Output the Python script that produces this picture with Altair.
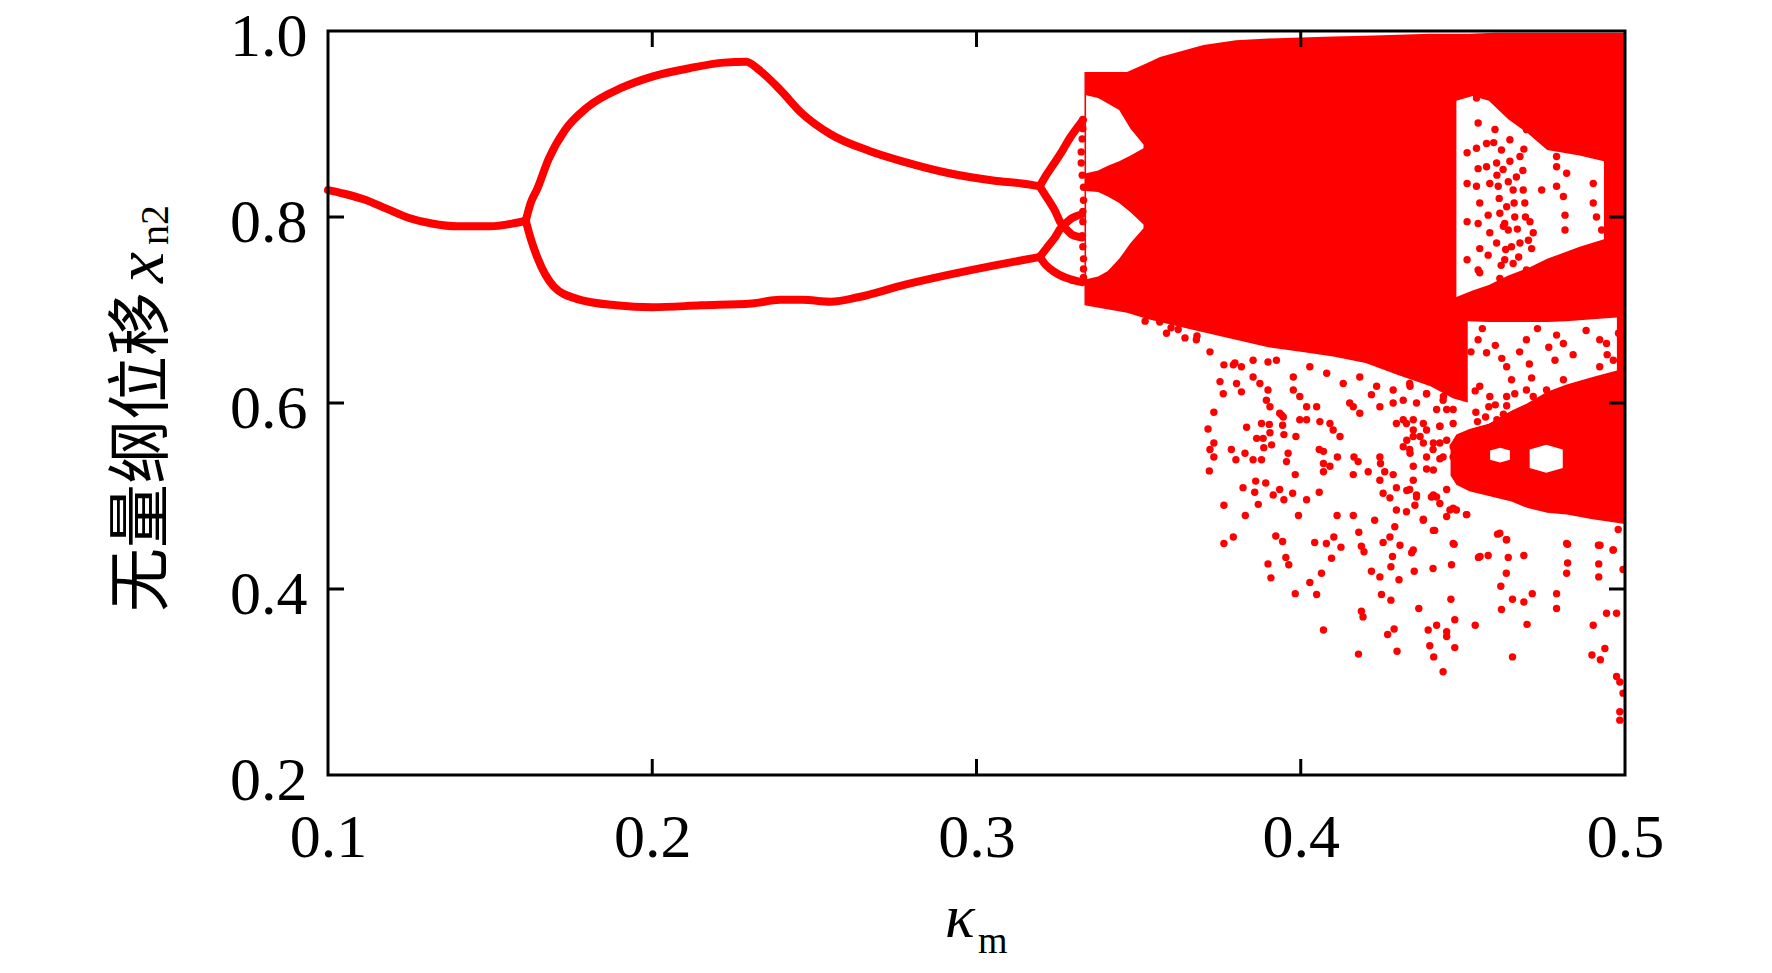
import altair as alt
import pandas as pd

RED = "#ff0000"
W, H = 1297, 744

# ---------- periodic branches (x = kappa_m, y = x_n2) ----------
p1 = [(0.100, 0.829), (0.105, 0.825), (0.111, 0.819), (0.118, 0.809), (0.125, 0.799),
      (0.132, 0.793), (0.140, 0.790), (0.150, 0.790), (0.157, 0.793), (0.161, 0.796)]
p2_up = [(0.161, 0.796), (0.1625, 0.815), (0.1645, 0.830), (0.168, 0.862), (0.173, 0.893),
         (0.180, 0.918), (0.1906, 0.939), (0.200, 0.951), (0.2115, 0.960), (0.222, 0.966),
         (0.229, 0.967), (0.233, 0.958), (0.2394, 0.937), (0.246, 0.912), (0.255, 0.889),
         (0.267, 0.871), (0.278, 0.859), (0.2916, 0.847), (0.3056, 0.839), (0.314, 0.836),
         (0.3195, 0.833)]
p2_lo = [(0.161, 0.796), (0.1625, 0.777), (0.1645, 0.757), (0.1697, 0.725), (0.1767, 0.712),
         (0.1889, 0.705), (0.200, 0.703), (0.215, 0.705), (0.2307, 0.707), (0.2394, 0.711),
         (0.2463, 0.711), (0.255, 0.709), (0.2638, 0.714), (0.2777, 0.727), (0.2916, 0.738),
         (0.3056, 0.748), (0.3195, 0.757)]
p4_a = [(0.3195, 0.833), (0.3215, 0.845), (0.324, 0.858), (0.3266, 0.872), (0.329, 0.886),
        (0.3315, 0.898), (0.3328, 0.904)]
p4_b = [(0.3195, 0.833), (0.3215, 0.822), (0.324, 0.808), (0.3266, 0.792), (0.3295, 0.799),
        (0.3325, 0.803)]
p4_c = [(0.3195, 0.757), (0.3215, 0.766), (0.324, 0.777), (0.3266, 0.789), (0.3295, 0.781),
        (0.3325, 0.778)]
p4_d = [(0.3195, 0.757), (0.3215, 0.748), (0.324, 0.741), (0.3266, 0.736), (0.329, 0.733),
        (0.3325, 0.730)]

# ---------- chaotic region: dense bands (x, lower, upper) ----------
mass_x = [0.3333, 0.3464, 0.353, 0.3566, 0.365, 0.370, 0.380, 0.390, 0.400, 0.410, 0.420,
          0.430, 0.440, 0.4469, 0.452, 0.460, 0.470, 0.480, 0.490, 0.500]
mass_lo = [0.705, 0.697, 0.690, 0.687, 0.680, 0.676, 0.668, 0.660, 0.655, 0.650, 0.643,
           0.630, 0.618, 0.605, 0.600, 0.600, 0.600, 0.600, 0.600, 0.600]
mass_hi = [0.956, 0.956, 0.966, 0.972, 0.980, 0.985, 0.990, 0.992, 0.993, 0.994, 0.995,
           0.996, 0.997, 0.997, 0.997, 0.998, 0.998, 0.998, 0.998, 0.998]
lowband_x = [0.4462, 0.448, 0.452, 0.458, 0.465, 0.470, 0.476, 0.482, 0.490, 0.500]
lowband_lo = [0.522, 0.512, 0.505, 0.500, 0.494, 0.487, 0.482, 0.480, 0.475, 0.470]
lowband_hi = [0.556, 0.566, 0.572, 0.578, 0.592, 0.600, 0.612, 0.620, 0.628, 0.635]

# ---------- empty windows inside the chaotic band (x, lower, upper) ----------
gap1_x = [0.3338, 0.3375, 0.3405, 0.344, 0.3475, 0.3515]
gap1_lo = [0.847, 0.850, 0.855, 0.860, 0.866, 0.874]
gap1_hi = [0.931, 0.928, 0.922, 0.915, 0.895, 0.878]
gap2_x = [0.3338, 0.3375, 0.3405, 0.344, 0.3475, 0.3515]
gap2_lo = [0.733, 0.736, 0.742, 0.755, 0.772, 0.788]
gap2_hi = [0.828, 0.827, 0.822, 0.815, 0.805, 0.792]
gap3_x = [0.448, 0.453, 0.458, 0.464, 0.470, 0.476, 0.486, 0.4935]
gap3_lo = [0.714, 0.721, 0.727, 0.737, 0.745, 0.755, 0.768, 0.776]
gap3_hi = [0.925, 0.930, 0.925, 0.905, 0.890, 0.872, 0.866, 0.860]
gap4_x = [0.4515, 0.458, 0.465, 0.470, 0.476, 0.482, 0.490, 0.4975]
gap4_lo = [0.572, 0.578, 0.592, 0.600, 0.612, 0.620, 0.628, 0.635]
gap4_hi = [0.688, 0.687, 0.687, 0.687, 0.687, 0.688, 0.690, 0.692]
gap5_x = [0.4706, 0.4757, 0.4808]
gap5_lo = [0.530, 0.525, 0.530]
gap5_hi = [0.550, 0.555, 0.550]
gap6_x = [0.4584, 0.4615, 0.4645]
gap6_lo = [0.539, 0.536, 0.539]
gap6_hi = [0.549, 0.552, 0.549]

# ---------- scattered iterates ----------
onset_pts = [(0.3328, 0.905), (0.3328, 0.895), (0.3326, 0.884), (0.3323, 0.870), (0.3323, 0.858),
             (0.3326, 0.845), (0.3330, 0.832), (0.3330, 0.818), (0.3328, 0.806), (0.3328, 0.795),
             (0.3326, 0.780), (0.3328, 0.768), (0.3330, 0.755), (0.3330, 0.744), (0.3330, 0.735)]
edge_pts = [(0.3565, 0.687), (0.3586, 0.675), (0.3622, 0.679), (0.3643, 0.670), (0.3678, 0.668),
            (0.3720, 0.655), (0.3751, 0.623), (0.3797, 0.643), (0.3817, 0.639), (0.3853, 0.646),
            (0.3899, 0.644), (0.3925, 0.646), (0.3977, 0.628), (0.4028, 0.639), (0.4080, 0.632),
            (0.4131, 0.621), (0.4182, 0.628), (0.4234, 0.618), (0.4285, 0.614), (0.4336, 0.621),
            (0.4388, 0.610), (0.4439, 0.603), (0.4480, 0.614), (0.352, 0.688), (0.360, 0.681),
            (0.368, 0.672), (0.3763, 0.641), (0.3792, 0.641), (0.3802, 0.621), (0.3817, 0.612),
            (0.3761, 0.610), (0.3853, 0.628), (0.3874, 0.621), (0.3899, 0.614), (0.3894, 0.603),
            (0.3905, 0.596), (0.3935, 0.589), (0.3946, 0.585), (0.3997, 0.582), (0.4018, 0.582),
            (0.3977, 0.614), (0.3997, 0.607), (0.4018, 0.596), (0.4049, 0.596), (0.4059, 0.580),
            (0.4090, 0.578), (0.4100, 0.571), (0.4121, 0.564), (0.4162, 0.596), (0.4182, 0.589),
            (0.4151, 0.600), (0.4218, 0.609), (0.4244, 0.596), (0.4285, 0.600), (0.4295, 0.578),
            (0.4326, 0.578), (0.4347, 0.582), (0.4378, 0.578), (0.4388, 0.571), (0.4429, 0.575),
            (0.4450, 0.593), (0.4470, 0.578),
            (0.4316, 0.582), (0.4347, 0.571), (0.4429, 0.575), (0.4327, 0.560), (0.4368, 0.564),
            (0.4409, 0.557), (0.4450, 0.560), (0.4337, 0.546), (0.4388, 0.542), (0.4429, 0.540),
            (0.4347, 0.532), (0.4409, 0.528), (0.4327, 0.643), (0.4368, 0.632), (0.4409, 0.639),
            (0.4450, 0.628), (0.4337, 0.618), (0.4388, 0.610), (0.4440, 0.607), (0.4470, 0.593),
            (0.4357, 0.600), (0.4419, 0.593), (0.4316, 0.603), (0.4460, 0.657), (0.4409, 0.657),
            (0.4347, 0.664)]
cloud_pts = [(0.3732, 0.590), (0.3714, 0.572), (0.3732, 0.557), (0.3720, 0.550), (0.3732, 0.542),
             (0.3718, 0.527), (0.3786, 0.550), (0.3800, 0.539), (0.3828, 0.546), (0.3853, 0.539),
             (0.3879, 0.539), (0.3833, 0.574), (0.3864, 0.562), (0.3884, 0.562), (0.3905, 0.568),
             (0.3910, 0.555), (0.3886, 0.552), (0.3879, 0.578), (0.3903, 0.577), (0.3941, 0.587),
             (0.3944, 0.576), (0.3948, 0.566), (0.3961, 0.546), (0.3956, 0.537), (0.3985, 0.564),
             (0.3983, 0.523), (0.3822, 0.509), (0.3861, 0.516), (0.3892, 0.514), (0.3858, 0.504),
             (0.3869, 0.491), (0.3915, 0.501), (0.3935, 0.507), (0.3948, 0.496), (0.3975, 0.503),
             (0.4018, 0.496), (0.4057, 0.504), (0.3993, 0.479), (0.4057, 0.550), (0.4070, 0.548),
             (0.4113, 0.542), (0.4070, 0.535), (0.4090, 0.532), (0.4070, 0.526), (0.4164, 0.542),
             (0.4177, 0.537), (0.4162, 0.523), (0.4208, 0.526), (0.4244, 0.542), (0.4246, 0.535),
             (0.4259, 0.526), (0.4285, 0.523), (0.4244, 0.517), (0.4254, 0.503), (0.4275, 0.498),
             (0.4295, 0.509), (0.4336, 0.507), (0.4357, 0.501), (0.4347, 0.517), (0.4403, 0.499),
             (0.4419, 0.499), (0.4429, 0.492), (0.4450, 0.507), (0.4480, 0.521), (0.4470, 0.542),
             (0.4439, 0.542), (0.4408, 0.550), (0.4388, 0.529), (0.4347, 0.564), (0.4336, 0.550),
             (0.4316, 0.553), (0.4378, 0.557), (0.4429, 0.557), (0.4470, 0.553),
             (0.3763, 0.490), (0.3829, 0.479), (0.3763, 0.449), (0.3792, 0.456), (0.3923, 0.457),
             (0.3944, 0.451), (0.3899, 0.427), (0.3908, 0.412), (0.3954, 0.434), (0.3963, 0.426),
             (0.3983, 0.395), (0.4028, 0.407), (0.4049, 0.394), (0.4064, 0.417), (0.4043, 0.450),
             (0.4079, 0.449), (0.4102, 0.456), (0.4124, 0.445), (0.4095, 0.433), (0.4112, 0.479),
             (0.4162, 0.479), (0.4179, 0.461), (0.4187, 0.446), (0.4195, 0.440), (0.4228, 0.474),
             (0.4254, 0.450), (0.4275, 0.456), (0.4290, 0.467), (0.4295, 0.485), (0.4326, 0.483),
             (0.4352, 0.490), (0.4378, 0.475), (0.4413, 0.463), (0.4470, 0.487), (0.4450, 0.478),
             (0.4473, 0.448), (0.4342, 0.439), (0.4306, 0.447), (0.4283, 0.435), (0.4278, 0.424),
             (0.4303, 0.410), (0.4244, 0.413), (0.4218, 0.419), (0.4249, 0.394), (0.4278, 0.388),
             (0.4350, 0.419), (0.4408, 0.422), (0.4465, 0.426), (0.4364, 0.379), (0.4463, 0.389),
             (0.4475, 0.367), (0.4187, 0.376), (0.4192, 0.370), (0.4070, 0.356), (0.4288, 0.357),
             (0.4268, 0.351), (0.4393, 0.356), (0.4419, 0.361), (0.4450, 0.354), (0.4450, 0.349),
             (0.4398, 0.339), (0.4410, 0.327), (0.4475, 0.337), (0.4297, 0.333), (0.4178, 0.330),
             (0.4439, 0.311),
             (0.4327, 0.506), (0.4357, 0.499), (0.4409, 0.501), (0.4460, 0.485), (0.4378, 0.474),
             (0.4409, 0.463), (0.4512, 0.480), (0.4614, 0.460), (0.4635, 0.453), (0.4470, 0.449),
             (0.4347, 0.442), (0.4820, 0.449), (0.4923, 0.447), (0.4964, 0.442), (0.4553, 0.435)]
right_pts = [(0.4548, 0.434), (0.4578, 0.436), (0.4607, 0.459), (0.4634, 0.453), (0.4640, 0.434),
             (0.4634, 0.417), (0.4688, 0.436), (0.4617, 0.403), (0.4653, 0.389), (0.4688, 0.386),
             (0.4714, 0.395), (0.4619, 0.378), (0.4698, 0.362), (0.4538, 0.361), (0.4653, 0.327),
             (0.4789, 0.395), (0.4789, 0.379), (0.4823, 0.448), (0.4823, 0.428), (0.4820, 0.417),
             (0.4918, 0.447), (0.4919, 0.427), (0.4919, 0.413), (0.4963, 0.442), (0.4994, 0.421),
             (0.4943, 0.374), (0.4974, 0.374), (0.4902, 0.361), (0.4898, 0.329), (0.4924, 0.324),
             (0.4938, 0.336), (0.4974, 0.306), (0.4984, 0.300), (0.4994, 0.288), (0.4984, 0.268),
             (0.4984, 0.259), (0.4979, 0.464), (0.4511, 0.480), (0.4480, 0.485), (0.4532, 0.512),
             (0.4538, 0.613)]
window_pts = [(0.4513, 0.869), (0.4513, 0.836), (0.4513, 0.795), (0.4513, 0.754), (0.4516, 0.937),
              (0.4542, 0.928), (0.4547, 0.901), (0.4542, 0.874), (0.4547, 0.852), (0.4542, 0.833),
              (0.4552, 0.815), (0.4578, 0.802), (0.4547, 0.793), (0.4552, 0.766), (0.4578, 0.759),
              (0.4547, 0.743), (0.4583, 0.836), (0.4573, 0.879), (0.4573, 0.854), (0.4604, 0.858),
              (0.4609, 0.833), (0.4614, 0.804), (0.4624, 0.851), (0.4635, 0.811), (0.4640, 0.786),
              (0.4650, 0.768), (0.4655, 0.750), (0.4660, 0.800), (0.4665, 0.843), (0.4676, 0.865),
              (0.4686, 0.829), (0.4691, 0.815), (0.4707, 0.795), (0.4717, 0.783), (0.4712, 0.766),
              (0.4696, 0.743), (0.4743, 0.829), (0.4789, 0.865), (0.4789, 0.854), (0.4789, 0.833),
              (0.4810, 0.822), (0.4815, 0.802), (0.4815, 0.786), (0.4820, 0.847), (0.4902, 0.836),
              (0.4902, 0.815), (0.4912, 0.800), (0.4928, 0.786), (0.4964, 0.836), (0.4974, 0.818),
              (0.4964, 0.793), (0.4984, 0.847), (0.4984, 0.865), (0.4984, 0.800), (0.4552, 0.740),
              (0.4614, 0.734), (0.4583, 0.783), (0.4629, 0.754), (0.4604, 0.772), (0.4676, 0.772),
              (0.4599, 0.894), (0.4645, 0.883), (0.4696, 0.894), (0.4619, 0.872), (0.4655, 0.829),
              (0.4629, 0.793), (0.4595, 0.880), (0.4605, 0.845), (0.4612, 0.820), (0.4625, 0.790),
              (0.4632, 0.765), (0.4645, 0.860), (0.4658, 0.815), (0.4668, 0.787), (0.4672, 0.757),
              (0.4685, 0.850), (0.4693, 0.800), (0.4702, 0.775), (0.4618, 0.748), (0.4640, 0.838),
              (0.4688, 0.873),
              (0.4547, 0.668), (0.4573, 0.654), (0.4635, 0.639), (0.4650, 0.625), (0.4660, 0.610),
              (0.4696, 0.668), (0.4712, 0.627), (0.4696, 0.614), (0.4789, 0.673), (0.4810, 0.664),
              (0.4784, 0.646), (0.4810, 0.625), (0.4758, 0.614), (0.4922, 0.668), (0.4943, 0.664),
              (0.4871, 0.618), (0.4922, 0.639), (0.4964, 0.646), (0.4974, 0.628), (0.4717, 0.607),
              (0.4635, 0.607), (0.4552, 0.618), (0.4583, 0.607), (0.4525, 0.655), (0.4560, 0.680),
              (0.4600, 0.662), (0.4620, 0.648), (0.4675, 0.655), (0.4730, 0.680), (0.4765, 0.660),
              (0.4840, 0.652), (0.4880, 0.678), (0.4945, 0.652), (0.4980, 0.675), (0.4705, 0.642),
              (0.4540, 0.590), (0.4570, 0.585), (0.4600, 0.598), (0.4625, 0.588), (0.4545, 0.580),
              (0.4605, 0.582), (0.4580, 0.596), (0.4635, 0.597)]

x_ticks = [0.1, 0.2, 0.3, 0.4, 0.5]
y_ticks = [0.2, 0.4, 0.6, 0.8, 1.0]
x_minor_marks = [0.2, 0.3, 0.4]
y_minor_marks = [0.4, 0.6, 0.8]

# ---------- tables ----------
branch_rows = []
for name, pts in [("p1", p1), ("p2u", p2_up), ("p2l", p2_lo), ("p4a", p4_a),
                  ("p4b", p4_b), ("p4c", p4_c), ("p4d", p4_d)]:
    for xv, yv in pts:
        branch_rows.append({"branch": name, "x": xv, "y": yv})
branches = pd.DataFrame(branch_rows)


def band_table(items):
    rows = []
    for name, xs_, lo_, hi_ in items:
        for a, b, c in zip(xs_, lo_, hi_):
            rows.append({"band": name, "x": a, "lo": b, "hi": c})
    return pd.DataFrame(rows)


red_bands = band_table([("mass", mass_x, mass_lo, mass_hi),
                        ("low", lowband_x, lowband_lo, lowband_hi)])
white_bands = band_table([("g1", gap1_x, gap1_lo, gap1_hi), ("g2", gap2_x, gap2_lo, gap2_hi),
                          ("g3", gap3_x, gap3_lo, gap3_hi), ("g4", gap4_x, gap4_lo, gap4_hi),
                          ("g5", gap5_x, gap5_lo, gap5_hi), ("g6", gap6_x, gap6_lo, gap6_hi)])
dots = pd.DataFrame([{"x": a, "y": b} for a, b in
                     onset_pts + edge_pts + cloud_pts + right_pts + window_pts])

# ---------- scales & axes ----------
xs = alt.Scale(domain=[0.1, 0.5], nice=False, zero=False)
ys = alt.Scale(domain=[0.2, 1.0], nice=False, zero=False)
x_axis = alt.Axis(values=x_ticks, format=".1f", title=None, ticks=False, tickSize=0,
                  domain=False, grid=False, labelFont="Liberation Serif", labelFontSize=62,
                  labelColor="black", labelPadding=32, labelFlush=False)
y_axis = alt.Axis(values=y_ticks, format=".1f", title=None, ticks=False, tickSize=0,
                  domain=False, grid=False, labelFont="Liberation Serif", labelFontSize=62,
                  labelColor="black", labelPadding=21, labelFlush=False, labelOffset=5)


def X(field):
    return alt.X(field, type="quantitative", scale=xs, axis=x_axis)


def Y(field):
    return alt.Y(field, type="quantitative", scale=ys, axis=y_axis, stack=False)


red_layer = alt.Chart(red_bands).mark_area(color=RED, opacity=1, clip=True).encode(
    x=X("x"), y=Y("lo"), y2="hi", detail="band:N")
white_layer = alt.Chart(white_bands).mark_area(color="white", opacity=1, clip=True).encode(
    x=X("x"), y=Y("lo"), y2="hi", detail="band:N")
dot_layer = alt.Chart(dots).mark_circle(color=RED, size=55, opacity=1, clip=True).encode(
    x=X("x"), y=Y("y"))
line_layer = alt.Chart(branches).mark_line(color=RED, strokeWidth=8, strokeCap="round",
                                           strokeJoin="round", interpolate="monotone").encode(
    x=X("x"), y=Y("y"), detail="branch:N")

xt = pd.DataFrame({"v": x_minor_marks})
yt = pd.DataFrame({"v": y_minor_marks})
tick_bottom = alt.Chart(xt).mark_rule(color="black", strokeWidth=3).encode(
    x=X("v"), y=alt.value(H), y2=alt.value(H - 16))
tick_top = alt.Chart(xt).mark_rule(color="black", strokeWidth=3).encode(
    x=X("v"), y=alt.value(0), y2=alt.value(16))
tick_left = alt.Chart(yt).mark_rule(color="black", strokeWidth=3).encode(
    y=Y("v"), x=alt.value(0), x2=alt.value(16))
tick_right = alt.Chart(yt).mark_rule(color="black", strokeWidth=3).encode(
    y=Y("v"), x=alt.value(W), x2=alt.value(W - 16))

one = pd.DataFrame({"k": [0]})
frame = alt.Chart(one).mark_rect(filled=False, stroke="black", strokeWidth=3).encode(
    x=alt.value(0), x2=alt.value(W), y=alt.value(0), y2=alt.value(H))

# axis titles (mixed styles -> separate text pieces)
t_cn = alt.Chart(one).mark_text(text="无量纲位移", font="Noto Sans CJK SC", fontSize=64,
                                angle=270, align="left", baseline="alphabetic",
                                color="black").encode(x=alt.value(-166), y=alt.value(581))
t_x = alt.Chart(one).mark_text(text="x", font="Liberation Serif", fontStyle="italic",
                               fontSize=70, angle=270, align="left", baseline="alphabetic",
                               color="black").encode(x=alt.value(-165), y=alt.value(252))
t_n2 = alt.Chart(one).mark_text(text="n2", font="Liberation Serif", fontSize=40,
                                angle=270, align="left", baseline="alphabetic",
                                color="black").encode(x=alt.value(-160), y=alt.value(214))
t_k = alt.Chart(one).mark_text(text="κ", font="Liberation Serif", fontStyle="italic",
                               fontSize=62, align="left", baseline="alphabetic",
                               color="black").encode(x=alt.value(617), y=alt.value(906))
t_m = alt.Chart(one).mark_text(text="m", font="Liberation Serif", fontSize=38,
                               align="left", baseline="alphabetic",
                               color="black").encode(x=alt.value(650), y=alt.value(922))

chart = alt.layer(red_layer, white_layer, dot_layer, line_layer,
                  tick_bottom, tick_top, tick_left, tick_right, frame,
                  t_cn, t_x, t_n2, t_k, t_m).properties(
    width=W, height=H,
    padding={"left": 320, "top": 23, "right": 130, "bottom": 188},
    autosize=alt.AutoSizeParams(type="none"),
).configure_view(strokeWidth=0).configure(background="white")

chart.save("out.html", embed_options={"renderer": "svg", "actions": False})
